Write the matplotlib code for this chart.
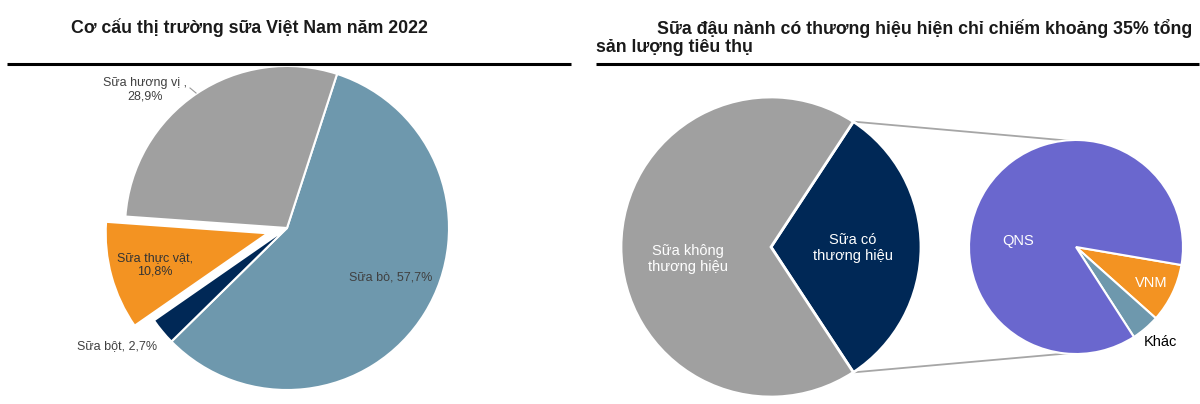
import numpy as np
import matplotlib.pyplot as plt

plt.rcParams['font.family'] = ['Liberation Sans', 'DejaVu Sans']

# left pie: co cau thi truong sua 2022 (%)
left_labels = ['Sữa bò', 'Sữa bột', 'Sữa thực vật', 'Sữa hương vị']
left_values = [57.7, 2.7, 10.8, 28.9]

# right: sua dau nanh co / khong thuong hieu (%)
soy_labels = ['Sữa có\nthương hiệu', 'Sữa không\nthương hiệu']
soy_values = [31.5, 68.5]

# breakdown of branded soy milk
brand_labels = ['VNM', 'Khác', 'QNS']
brand_values = [8.9, 4.3, 86.8]

W, H = 1200, 404
fig = plt.figure(figsize=(W / 100, H / 100), dpi=100)
ax = fig.add_axes([0, 0, 1, 1])

def py(y):
    # pixel row -> data y
    return H - y

blue = '#6E98AD'
gray = '#A0A0A0'
orange = '#F39322'
navy = '#002856'
purple = '#6A67CE'
wp = dict(edgecolor='white', linewidth=1.5)

# ---- left chart
c1 = (287, py(228))
ax.pie(left_values, colors=[blue, navy, orange, gray], startangle=72,
       counterclock=False, center=c1, radius=162,
       explode=[0, 0, 20, 0], wedgeprops=wp)

lab_col = '#404040'
ax.text(391, py(277), f'{left_labels[0]}, {left_values[0]:.1f}%'.replace('.', ','),
        fontsize=9, color=lab_col, ha='center', va='center')
ax.text(117, py(346), f'{left_labels[1]}, {left_values[1]:.1f}%'.replace('.', ','),
        fontsize=9, color=lab_col, ha='center', va='center')
ax.text(155, py(265), f'{left_labels[2]},\n{left_values[2]:.1f}%'.replace('.', ','),
        fontsize=9, color='#333333', ha='center', va='center', linespacing=1.15)
ax.text(145, py(90), f'{left_labels[3]} ,\n{left_values[3]:.1f}%'.replace('.', ','),
        fontsize=9, color=lab_col, ha='center', va='center', linespacing=1.15)
ax.plot([190, 196], [py(88), py(93)], color='#9a9a9a', lw=0.8)

ax.text(71, py(28), 'Cơ cấu thị trường sữa Việt Nam năm 2022', fontsize=12.8,
        fontweight='bold', color='#1a1a1a', ha='left', va='center')
ax.plot([7, 571], [py(64), py(64)], color='black', lw=2.2, solid_capstyle='butt')

# ---- right chart
c2 = (771, py(247))
r2 = 150
a0 = soy_values[0] / sum(soy_values) * 180
ax.pie(soy_values, colors=[navy, gray], startangle=a0, counterclock=False,
       center=c2, radius=r2, wedgeprops=dict(edgecolor='white', linewidth=2))

c3 = (1076, py(247))
r3 = 107
ax.pie(brand_values, colors=[orange, blue, purple], startangle=-9.7,
       counterclock=False, center=c3, radius=r3, wedgeprops=wp)

# connecting lines from branded slice to the breakdown pie
t = np.deg2rad(a0)
for s in (1, -1):
    x1 = c2[0] + r2 * np.cos(t)
    y1 = c2[1] + s * r2 * np.sin(t)
    x2 = c3[0] - 4
    y2 = c3[1] + s * (r3 - 1)
    ax.plot([x1, x2], [y1, y2], color='#A6A6A6', lw=1.3, zorder=0)

ax.text(853, py(248), soy_labels[0], fontsize=10.5, color='white',
        ha='center', va='center', linespacing=1.25)
ax.text(688, py(259), soy_labels[1], fontsize=10.5, color='white',
        ha='center', va='center', linespacing=1.25)
ax.text(1018, py(241), brand_labels[2], fontsize=10.5, color='white',
        ha='center', va='center')
ax.text(1151, py(283), brand_labels[0], fontsize=10.5, color='white',
        ha='center', va='center')
ax.text(1160, py(342), brand_labels[1], fontsize=10.5, color='black',
        ha='center', va='center')

ax.text(1192, py(28), 'Sữa đậu nành có thương hiệu hiện chỉ chiếm khoảng 35% tổng',
        fontsize=12.8, fontweight='bold', color='#1a1a1a', ha='right', va='center')
ax.text(596, py(48), 'sản lượng tiêu thụ', fontsize=12.8, fontweight='bold',
        color='#1a1a1a', ha='left', va='center')
ax.plot([596, 1199], [py(64), py(64)], color='black', lw=2.2, solid_capstyle='butt')

ax.set_xlim(0, W)
ax.set_ylim(0, H)
ax.set_aspect('equal')
ax.axis('off')

fig.savefig('out.png', dpi=100)
